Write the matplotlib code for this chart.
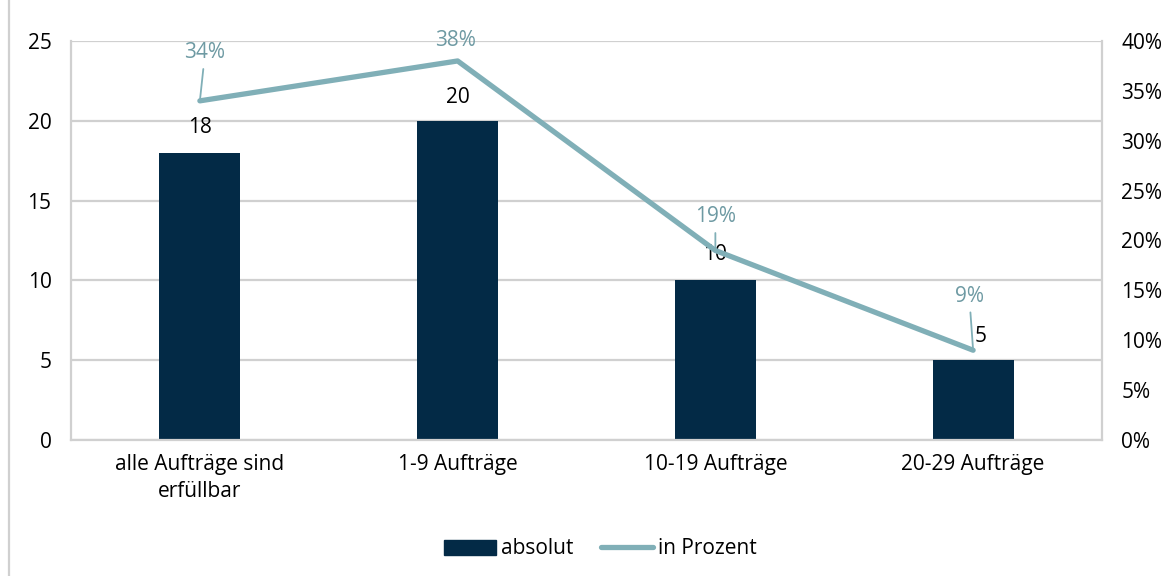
import matplotlib.pyplot as plt
from matplotlib.patches import Rectangle
from matplotlib.lines import Line2D
import numpy as np

categories = ['alle Aufträge sind\nerfüllbar', '1-9 Aufträge', '10-19 Aufträge', '20-29 Aufträge']
absolut = [18, 20, 10, 5]
prozent = [0.34, 0.38, 0.19, 0.09]
prozent_labels = ['34%', '38%', '19%', '9%']

BAR = '#032a46'
LINE = '#80afb7'
LABEL = '#6e9aa3'
GRID = '#d0d0d0'

plt.rcParams['font.family'] = ['Open Sans', 'DejaVu Sans']
plt.rcParams['font.size'] = 15

fig = plt.figure(figsize=(11.73, 5.76), dpi=100)
ax = fig.add_axes([71 / 1173, 1 - 440 / 576, 1031 / 1173, 399 / 576])
x = np.arange(len(categories))

ax.bar(x, absolut, width=0.315, color=BAR, zorder=2)
ax.set_xlim(-0.5, len(categories) - 0.5)
ax.set_ylim(0, 25)
ax.set_yticks(range(0, 26, 5))
ax.grid(axis='y', color=GRID, lw=1.6, zorder=0)
ax.tick_params(length=0)
ax.tick_params(axis='y', pad=14)
ax.tick_params(axis='x', pad=10)
ax.set_xticks(x)
ax.set_xticklabels(categories, linespacing=1.4)
for s in ['top', 'right']:
    ax.spines[s].set_visible(False)
for s in ['left', 'bottom']:
    ax.spines[s].set_color(GRID)
    ax.spines[s].set_linewidth(1.6)

# value labels over the bars
offsets = [(0, 1.55), (0, 1.45), (0, 1.6), (0.031, 1.5)]
for xi, v, (dx, dy) in zip(x, absolut, offsets):
    ax.text(xi + dx, v + dy, str(v), ha='center', va='center', color='black')

ax2 = ax.twinx()
ax2.plot(x, prozent, color=LINE, lw=3.8, solid_capstyle='round', zorder=3)
ax2.set_ylim(0, 0.40)
ax2.set_yticks(np.arange(0, 0.41, 0.05))
ax2.set_yticklabels([f'{int(round(t * 100))}%' for t in np.arange(0, 0.41, 0.05)])
ax2.tick_params(length=0, pad=14)
for s in ['top', 'left', 'bottom']:
    ax2.spines[s].set_visible(False)
ax2.spines['right'].set_color(GRID)
ax2.spines['right'].set_linewidth(1.6)

# percentage labels with leader lines
label_pos = [(0.02, 0.388), (-0.01, 0.401), (0.0, 0.2236), (-0.015, 0.144)]
for xi, p, lab, (dx, ty) in zip(x, prozent, prozent_labels, label_pos):
    if ty - p > 0.03:
        ax2.annotate(lab, xy=(xi, p), xytext=(xi + dx, ty), ha='center', va='center',
                     color=LABEL, annotation_clip=False,
                     arrowprops=dict(arrowstyle='-', color=LINE, lw=1.3,
                                     shrinkA=2, shrinkB=0))
    else:
        ax2.text(xi + dx, ty, lab, ha='center', va='center', color=LABEL)

handles = [Rectangle((0, 0), 1, 1, color=BAR),
           Line2D([], [], color=LINE, lw=3.8, solid_capstyle='round')]
fig.legend(handles, ['absolut', 'in Prozent'], loc='center', bbox_to_anchor=(0.512, 1 - 549 / 576),
           ncol=2, frameon=False, handlelength=2.5, handletextpad=0.25, columnspacing=1.3)

# outer frame line on the left edge
fig.add_artist(Line2D([9 / 1173, 9 / 1173], [0, 1], transform=fig.transFigure,
                      color=GRID, lw=1.6))

fig.savefig('out.png', dpi=100)
